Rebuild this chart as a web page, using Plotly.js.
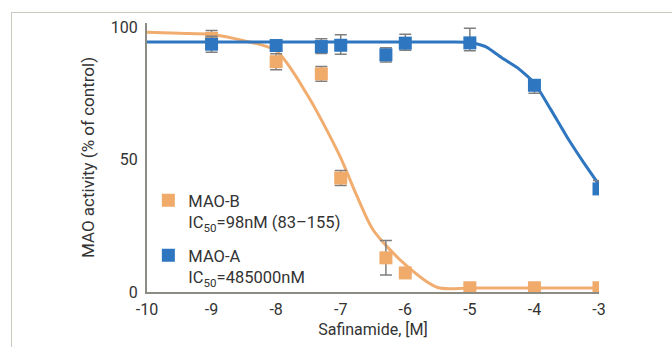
<!DOCTYPE html>
<html><head><meta charset="utf-8">
<script src="https://cdn.plot.ly/plotly-3.0.1.min.js"></script>
<style>
html,body{margin:0;padding:0;background:#fff;}
#frame{position:absolute;left:11px;top:12px;width:700px;height:400px;border-top:1px solid #c9c9c0;border-left:1px solid #c9c9c0;}
#chart{position:absolute;left:0;top:0;width:672px;height:347px;}
</style></head>
<body>
<div id="frame"></div>
<div id="chart"></div>
<script>
// Measured points: log10 concentration [M]
const logConc = [-9, -8, -7.3, -7, -6.3, -6, -5, -4, -3];
const maoB = [95.7, 86.9, 82.3, 43.0, 12.9, 7.2, 1.6, 1.6, 1.6];
const maoBErr = [3, 3, 2.8, 2.8, 6.5, 0, 0, 0, 0];
const maoA = [93.5, 93.0, 92.6, 93.1, 89.5, 93.9, 94.0, 78.0, 38.9];
const maoAErrPlus = [3, 1, 3, 4, 2.7, 3.4, 5.5, 1.5, 3.2];
const maoAErrMinus = [3, 1, 2.6, 3.4, 2.7, 2.7, 3, 3, 1];

// Fitted curves
const curveBX = [-10, -9.5, -9, -8.5, -8, -7.5, -7.25, -7, -6.75, -6.5, -6, -5.5, -5, -4, -3];
const curveBY = [98, 97.6, 97.2, 94.8, 91, 73.7, 62.7, 50.6, 36.3, 23.5, 10.3, 1.7, 1.5, 1.5, 1.5];
const curveAX = [-10, -9, -8, -7, -6, -5.5, -5, -4.75, -4.5, -4.25, -4, -3.75, -3.5, -3.25, -3];
const curveAY = [94.3, 94.3, 94.3, 94.3, 94.3, 94.3, 94.2, 92.5, 88.3, 84.4, 78.8, 69, 58.7, 49.3, 40.5];

const xTickVals = [-10, -9, -8, -7, -6, -5, -4, -3];
const xTickText = ['-10', '-9', '-8', '-7', '-6', '-5', '-4', '-3'];
const yTickVals = [0, 50, 100];

const orange = '#f0aa6a';
const blue = '#2e76bf';
const errColor = '#7f7f7f';

const traces = [
  {x: curveBX, y: curveBY, mode: 'lines', line: {color: '#f1ad70', width: 3, shape: 'spline', smoothing: 0.8}, showlegend: false, hoverinfo: 'skip'},
  {x: curveAX, y: curveAY, mode: 'lines', line: {color: blue, width: 3, shape: 'spline', smoothing: 0.5}, showlegend: false, hoverinfo: 'skip'},
  {x: logConc, y: maoB, mode: 'markers', name: 'MAO-B<br>IC<sub>50</sub>=98nM (83–155)', legendgroup: 'b',
   marker: {symbol: 'square', size: 13, color: orange},
   error_y: {type: 'data', array: maoBErr, color: errColor, thickness: 1.5, width: 6}},
  {x: logConc, y: maoA, mode: 'markers', name: 'MAO-A<br>IC<sub>50</sub>=485000nM', legendgroup: 'a',
   marker: {symbol: 'square', size: 13, color: blue},
   error_y: {type: 'data', symmetric: false, array: maoAErrPlus, arrayminus: maoAErrMinus, color: errColor, thickness: 1.5, width: 6}}
];

const layout = {
  width: 672, height: 347,
  paper_bgcolor: 'rgba(0,0,0,0)', plot_bgcolor: 'rgba(0,0,0,0)',
  margin: {l: 147, r: 73, t: 23, b: 54.5, pad: 0},
  font: {family: 'Roboto, "Open Sans", sans-serif', size: 16, color: '#333'},
  xaxis: {
    range: [-10, -3], tickvals: xTickVals, ticktext: xTickText,
    showgrid: false, zeroline: false, showline: true, linecolor: '#8c8c84', linewidth: 2,
    ticks: '', ticklabelstandoff: 2, tickfont: {size: 16, color: '#333'},
    title: {text: 'Safinamide, [M]', font: {size: 16, color: '#333'}, standoff: 6}
  },
  yaxis: {
    range: [0, 101.5], tickvals: yTickVals,
    showgrid: false, zeroline: false, showline: true, linecolor: '#8c8c84', linewidth: 2,
    ticks: '', ticklabelstandoff: 4, tickfont: {size: 16, color: '#333'},
    title: {text: 'MAO activity (% of control)', font: {size: 17, color: '#333'}, standoff: 12}
  },
  showlegend: true,
  legend: {x: 0.003, y: 0.405, xanchor: 'left', yanchor: 'top', bgcolor: 'rgba(0,0,0,0)',
    valign: 'top', tracegroupgap: 9, font: {size: 16.5, color: '#333'}, traceorder: 'grouped'}
};

Plotly.newPlot('chart', traces, layout, {displayModeBar: false, staticPlot: true});
</script>
</body></html>
